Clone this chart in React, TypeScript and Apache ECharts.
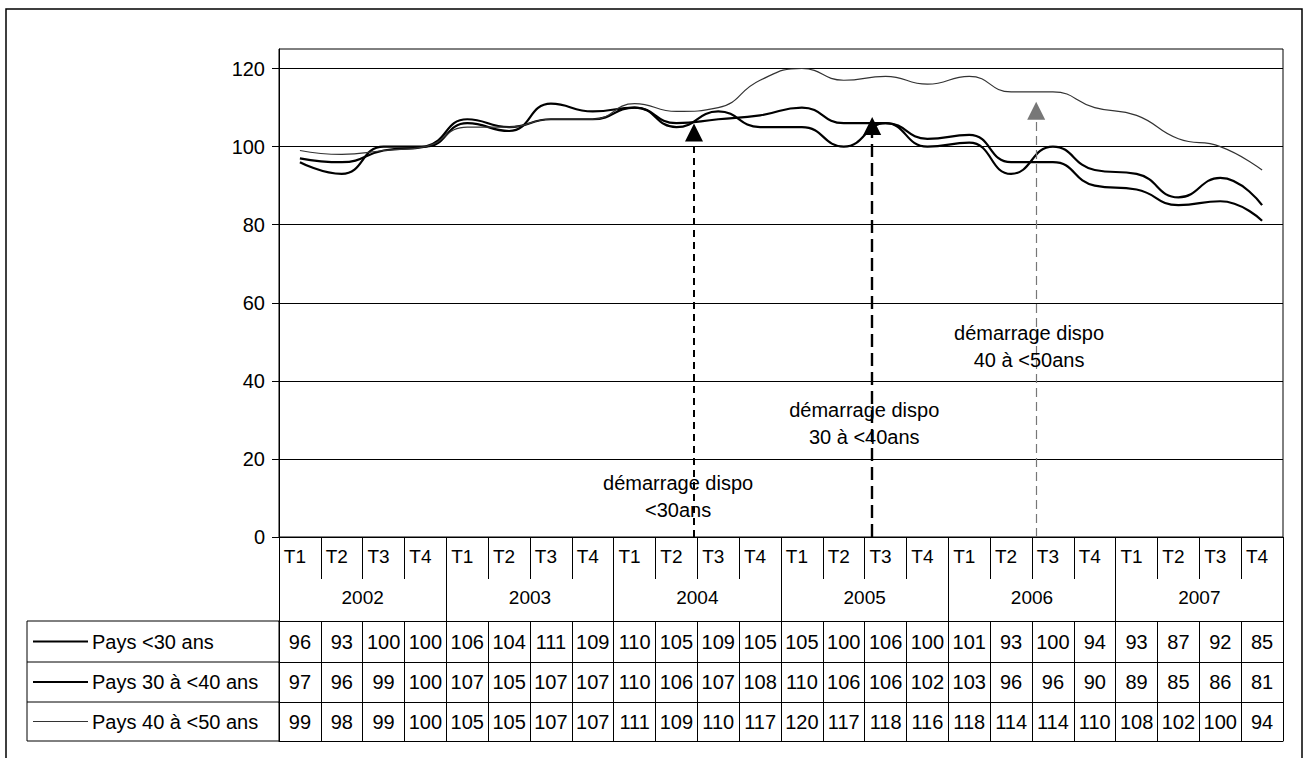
import React, { useEffect, useRef } from "react";
import * as echarts from "echarts";

// Quarterly index values per age band (2002 T1 .. 2007 T4)
const years = ["2002", "2003", "2004", "2005", "2006", "2007"];
const quarters = ["T1", "T2", "T3", "T4"];
const seriesNames = ["Pays <30 ans", "Pays 30 à <40 ans", "Pays 40 à <50 ans"];
const under30 = [96, 93, 100, 100, 106, 104, 111, 109, 110, 105, 109, 105, 105, 100, 106, 100, 101, 93, 100, 94, 93, 87, 92, 85];
const from30to40 = [97, 96, 99, 100, 107, 105, 107, 107, 110, 106, 107, 108, 110, 106, 106, 102, 103, 96, 96, 90, 89, 85, 86, 81];
const from40to50 = [99, 98, 99, 100, 105, 105, 107, 107, 111, 109, 110, 117, 120, 117, 118, 116, 118, 114, 114, 110, 108, 102, 100, 94];
const yTicks = [0, 20, 40, 60, 80, 100, 120];

// Launch markers: position in quarter units along the time axis, arrow end value, note position
const launchAt = [9.92, 14.18, 18.1];
const launchTip = [103.6, 105.3, 109.2];
const launchNotes = ["démarrage dispo\n<30ans", "démarrage dispo\n30 à <40ans", "démarrage dispo\n40 à <50ans"];
const noteAt = [
  [9.54, 10.4],
  [13.99, 29.1],
  [17.93, 48.8],
];

const FONT = "'Liberation Sans', Arial, Helvetica, sans-serif";
const W = 1306;
const H = 758;

// Layout of the plot and the data table below it
const PLOT_LEFT = 279;
const PLOT_RIGHT = 1283;
const PLOT_TOP = 49;
const PLOT_BOTTOM = 537;
const ROW_OFFSETS = [84, 125, 165];
const ROW_HEIGHTS = [41, 40, 39];
const TABLE_BOTTOM_OFFSET = 204;
const LEGEND_LEFT = 27;

export default function App() {
  const ref = useRef<HTMLDivElement>(null);

  useEffect(() => {
    if (!ref.current) return;
    const chart = echarts.init(ref.current, undefined, { renderer: "svg", width: W, height: H });

    const quarterCats = years.flatMap(() => quarters);
    const rows = [under30, from30to40, from40to50];
    const lineWidths = [2.2, 2.2, 1.2];
    const lineColors = ["#000", "#000", "#333"];

    const black = { color: "#000", width: 1 };
    const baseCat = { type: "category", gridIndex: 0, position: "bottom", boundaryGap: true, splitLine: { show: false } };

    const xAxis: any[] = [
      {
        ...baseCat,
        data: quarterCats,
        offset: 0,
        axisLine: { show: true, lineStyle: black },
        axisTick: { show: true, interval: 0, length: 42, lineStyle: black },
        axisLabel: {
          interval: 0,
          margin: 10,
          color: "#000",
          fontSize: 19,
          fontFamily: FONT,
          formatter: (v: string) => `{q|${v}}`,
          rich: { q: { padding: [0, 10, 0, 0], fontSize: 19, fontFamily: FONT, color: "#000" } },
        },
      },
      {
        ...baseCat,
        data: years,
        offset: 0,
        axisLine: { show: false },
        axisTick: { show: true, interval: 0, length: 84, lineStyle: black },
        axisLabel: { interval: 0, margin: 51, color: "#000", fontSize: 19, fontFamily: FONT },
      },
      ...rows.map((vals, i) => ({
        ...baseCat,
        data: vals.map(String),
        offset: ROW_OFFSETS[i],
        axisLine: { show: true, lineStyle: black },
        axisTick: { show: true, interval: 0, length: ROW_HEIGHTS[i], lineStyle: black },
        axisLabel: { interval: 0, margin: ROW_HEIGHTS[i] / 2 - 10, color: "#000", fontSize: 20, fontFamily: FONT },
      })),
      {
        ...baseCat,
        data: quarterCats,
        offset: TABLE_BOTTOM_OFFSET,
        axisLine: { show: true, lineStyle: black },
        axisTick: { show: false },
        axisLabel: { show: false },
      },
      { type: "value", gridIndex: 0, min: 0, max: 24, show: false },
    ];
    const markerAxis = xAxis.length - 1;

    const lineSeries = rows.map((vals, i) => ({
      type: "line",
      name: seriesNames[i],
      xAxisIndex: 0,
      yAxisIndex: 0,
      data: vals,
      smooth: 0.5,
      symbol: "none",
      lineStyle: { color: lineColors[i], width: lineWidths[i] },
      z: 5,
    }));

    const arrowStyles = [
      { color: "#000", width: 2, type: [7, 5], opacity: 1 },
      { color: "#000", width: 2.4, type: [13, 6], opacity: 1 },
      { color: "#777", width: 1.2, type: [9, 5], opacity: 1 },
    ];

    const legendRowTops = ROW_OFFSETS.map((o) => PLOT_BOTTOM + o);
    const tableBottom = PLOT_BOTTOM + TABLE_BOTTOM_OFFSET;

    const legendGraphics: any[] = [
      {
        type: "rect",
        shape: { x: LEGEND_LEFT, y: legendRowTops[0], width: PLOT_LEFT - LEGEND_LEFT, height: tableBottom - legendRowTops[0] },
        style: { fill: "none", stroke: "#000", lineWidth: 1 },
      },
      ...legendRowTops.slice(1).map((y) => ({
        type: "line",
        shape: { x1: LEGEND_LEFT, y1: y, x2: PLOT_LEFT, y2: y },
        style: { stroke: "#000", lineWidth: 1 },
      })),
      ...seriesNames.flatMap((name, i) => {
        const cy = legendRowTops[i] + ROW_HEIGHTS[i] / 2;
        return [
          {
            type: "line",
            shape: { x1: LEGEND_LEFT + 6, y1: cy, x2: LEGEND_LEFT + 61, y2: cy },
            style: { stroke: lineColors[i], lineWidth: lineWidths[i] },
          },
          {
            type: "text",
            x: LEGEND_LEFT + 65,
            y: cy,
            style: { text: name, fontSize: 20, fontFamily: FONT, fill: "#000", verticalAlign: "middle" },
          },
        ];
      }),
      {
        type: "rect",
        shape: { x: 6, y: 9, width: 1296, height: 800 },
        style: { fill: "none", stroke: "#000", lineWidth: 1.5 },
        silent: true,
      },
    ];

    chart.setOption({
      animation: false,
      backgroundColor: "#fff",
      grid: {
        left: PLOT_LEFT,
        right: W - PLOT_RIGHT,
        top: PLOT_TOP,
        bottom: H - PLOT_BOTTOM,
        show: true,
        borderColor: "#000",
        borderWidth: 1,
        backgroundColor: "transparent",
      },
      xAxis,
      yAxis: {
        type: "value",
        min: 0,
        max: 125,
        interval: 20,
        axisLine: { show: true, lineStyle: black },
        axisTick: { show: true, length: 7, lineStyle: black, customValues: yTicks },
        axisLabel: { color: "#000", fontSize: 20, fontFamily: FONT, margin: 14, customValues: yTicks },
        splitLine: { show: true, lineStyle: { color: "#000", width: 1 } },
      },
      series: [
        ...lineSeries,
        {
          type: "lines",
          coordinateSystem: "cartesian2d",
          xAxisIndex: markerAxis,
          yAxisIndex: 0,
          symbol: ["none", "triangle"],
          symbolSize: [20, 18],
          silent: true,
          z: 6,
          lineStyle: { opacity: 1 },
          data: launchAt.map((x, i) => ({
            coords: [
              [x, 0],
              [x, launchTip[i]],
            ],
            lineStyle: arrowStyles[i],
          })),
        },
        {
          type: "scatter",
          xAxisIndex: markerAxis,
          yAxisIndex: 0,
          symbolSize: 1,
          silent: true,
          itemStyle: { color: "rgba(0,0,0,0)" },
          label: {
            show: true,
            position: "inside",
            formatter: (p: any) => p.name,
            fontSize: 20,
            lineHeight: 27,
            color: "#000",
            opacity: 1,
            textBorderWidth: 0,
            textBorderColor: "transparent",
            fontFamily: FONT,
            align: "center",
          },
          data: launchNotes.map((t, i) => ({ name: t, value: noteAt[i] })),
          z: 7,
        },
      ],
      graphic: legendGraphics,
    });

    return () => chart.dispose();
  }, []);

  return (
    <div
      ref={ref}
      style={{ position: "fixed", left: 0, top: 0, width: W, height: H, background: "#fff" }}
    />
  );
}
